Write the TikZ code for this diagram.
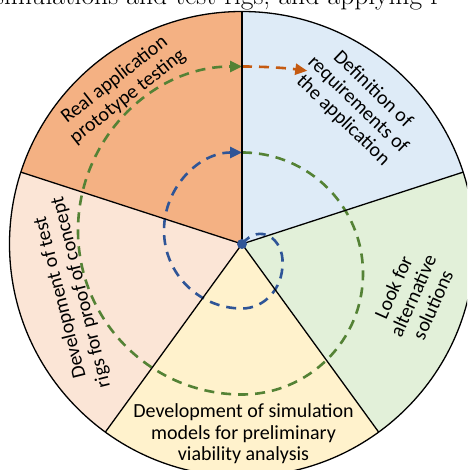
\documentclass[tikz,border=0pt]{standalone}
\usepackage{fontspec}
\newfontfamily\labelfont{Carlito}
\usetikzlibrary{arrows.meta}

\definecolor{protoorange}{HTML}{F4B183}
\definecolor{reqblue}{HTML}{DEEBF7}
\definecolor{altgreen}{HTML}{E2F0D9}
\definecolor{simyellow}{HTML}{FFF2CC}
\definecolor{rigpeach}{HTML}{FBE5D6}
\definecolor{spiralblue}{HTML}{2F5597}
\definecolor{spiralgreen}{HTML}{548235}
\definecolor{spiralorange}{HTML}{C55A11}

\begin{document}
\begin{tikzpicture}[x=1pt,y=1pt,
  sectortext/.style={font=\labelfont\fontsize{20}{21.5}\selectfont, align=center, inner sep=0pt},
  spiralarrow/.style={line width=2.6pt, dash pattern=on 10pt off 7pt, -{Triangle[length=12pt,width=11pt]}}]

\useasboundingbox (-242,-226) rectangle (225,244);
\clip (-242,-226) rectangle (225,244);

% line of running text above
\node[anchor=base west, inner sep=0pt, font=\fontsize{27.5}{30}\selectfont] (bodytext) at (-248,239.5) {simulations and test rigs, and applying r};

% the five sectors
\fill[reqblue] (0,0) -- (18:232.5) arc[start angle=18, end angle=90, radius=232.5] -- cycle;
\fill[protoorange] (0,0) -- (90:232.5) arc[start angle=90, end angle=162, radius=232.5] -- cycle;
\fill[rigpeach] (0,0) -- (162:232.5) arc[start angle=162, end angle=234, radius=232.5] -- cycle;
\fill[simyellow] (0,0) -- (234:232.5) arc[start angle=234, end angle=306, radius=232.5] -- cycle;
\fill[altgreen] (0,0) -- (306:232.5) arc[start angle=306, end angle=378, radius=232.5] -- cycle;

% spiral, one colour per turn
\draw[spiralarrow, color=spiralblue] (0,0) .. controls (18,22) and (42,5) .. (40.5,-20)
  .. controls (40.5,-45) and (22,-64.5) .. (0,-64.5) arc[start angle=-90, end angle=-270, radius=78];
\draw[spiralarrow, color=spiralgreen] (0,91.5) arc[start angle=90, end angle=-90, radius=121]
  arc[start angle=-90, end angle=-270, radius=164];
\draw[spiralarrow, color=spiralorange] (0,177.5) arc[start angle=90, end angle=82.5, radius=500];

% spokes and rim
\draw[line width=1.3pt] (0,0) -- (18:232.5);
\draw[line width=1.3pt] (0,0) -- (90:232.5);
\draw[line width=1.3pt] (0,0) -- (162:232.5);
\draw[line width=1.3pt] (0,0) -- (234:232.5);
\draw[line width=1.3pt] (0,0) -- (306:232.5);
\draw[line width=1.3pt] (0,0) circle[radius=232.5];

\fill[spiralblue] (0,0) circle[radius=5];

% sector labels
\node[sectortext, rotate=38] (realtest) at (127.8:197) {Real application\\prototype testing};
\node[sectortext, rotate=-44] (requirements) at (50.2:181) {Definition of\\requirements of\\the application};
\node[sectortext, rotate=66] (alternatives) at (-16.9:178.7) {Look for\\alternative\\solutions};
\node[sectortext, rotate=104] (testrigs) at (196.6:178.4) {Development of test\\rigs for proof of concept};
\node[sectortext] (simulation) at (1.5,-190) {Development of simulation\\models for preliminary\\viability analysis};
\end{tikzpicture}
\end{document}
